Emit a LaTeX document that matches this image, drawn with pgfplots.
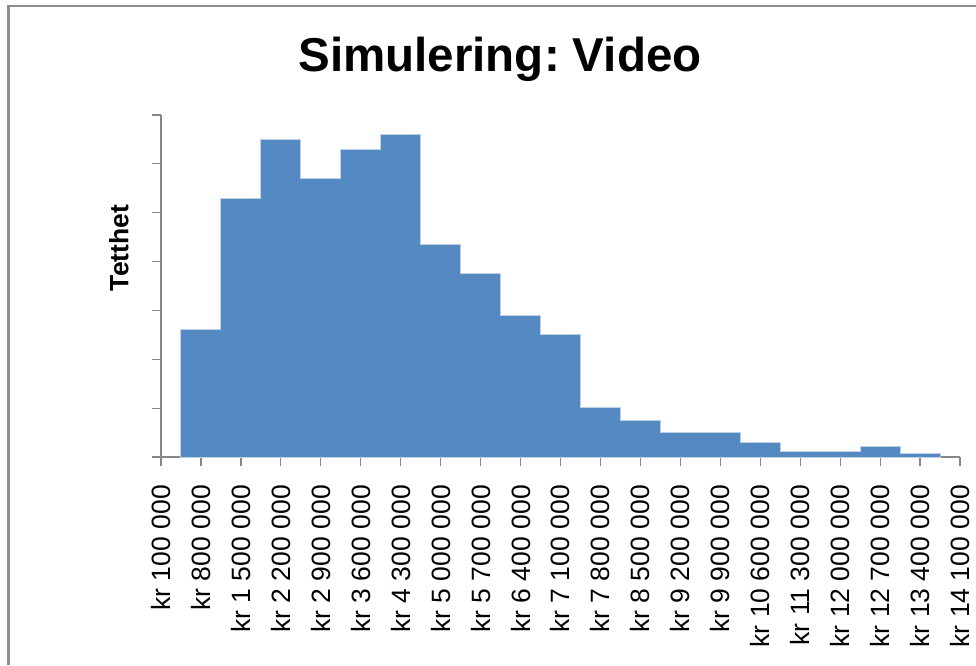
\documentclass[border=0pt]{standalone}
\usepackage{pgfplots}
\pgfplotsset{compat=1.18}
\usepackage{fontspec}
\setmainfont{Liberation Sans}
\frenchspacing
\definecolor{barblue}{RGB}{85,137,193}
\definecolor{baredge}{RGB}{190,208,230}
\definecolor{axgray}{RGB}{134,134,134}
\definecolor{framegray}{RGB}{140,140,140}
\begin{document}
\begin{tikzpicture}
\path[use as bounding box] (0,0) rectangle (976pt,-665pt);
\draw[framegray, line width=2.4pt] (8.5pt,-665pt) -- (8.5pt,-6.2pt) -- (976pt,-6.2pt);
\node[anchor=base, font=\fontsize{47.5}{50}\selectfont\bfseries] at (500pt,-71pt) {Simulering: Video};
\node[rotate=90, font=\fontsize{26.5}{30}\selectfont\bfseries] at (119pt,-248pt) {Tetthet};
\begin{axis}[
  at={(161pt,-457pt)}, anchor=south west,
  scale only axis, width=799pt, height=342pt,
  xmin=100, xmax=14100, ymin=0, ymax=7,
  scaled x ticks=false,
  axis lines=left, axis line style={-, axgray, line width=1.2pt},
  tick style={axgray, line width=1.2pt},
  tick align=outside, major tick length=9pt,
  xtick={100,800,...,14100},
  xticklabels={kr 100 000, kr 800 000, kr 1 500 000, kr 2 200 000, kr 2 900 000, kr 3 600 000, kr 4 300 000, kr 5 000 000, kr 5 700 000, kr 6 400 000, kr 7 100 000, kr 7 800 000, kr 8 500 000, kr 9 200 000, kr 9 900 000, kr 10 600 000, kr 11 300 000, kr 12 000 000, kr 12 700 000, kr 13 400 000, kr 14 100 000},
  xticklabel style={yshift=-19pt, rotate=90, anchor=east, inner sep=0pt, font=\fontsize{26.5}{30}\selectfont},
  ytick={0,1,...,7}, yticklabels={},
  clip=false,
]
\addplot[const plot, fill=barblue, draw=baredge, line width=1pt] coordinates {
(450,2.61) (1150,5.29) (1850,6.50) (2550,5.71) (3250,6.30) (3950,6.60)
(4650,4.35) (5350,3.75) (6050,2.90) (6750,2.51) (7450,1.02) (8150,0.74)
(8850,0.51) (9550,0.51) (10250,0.30) (10950,0.12) (11650,0.12) (12350,0.22)
(13050,0.07) (13750,0.07)
} \closedcycle;
\end{axis}
\end{tikzpicture}
\end{document}
